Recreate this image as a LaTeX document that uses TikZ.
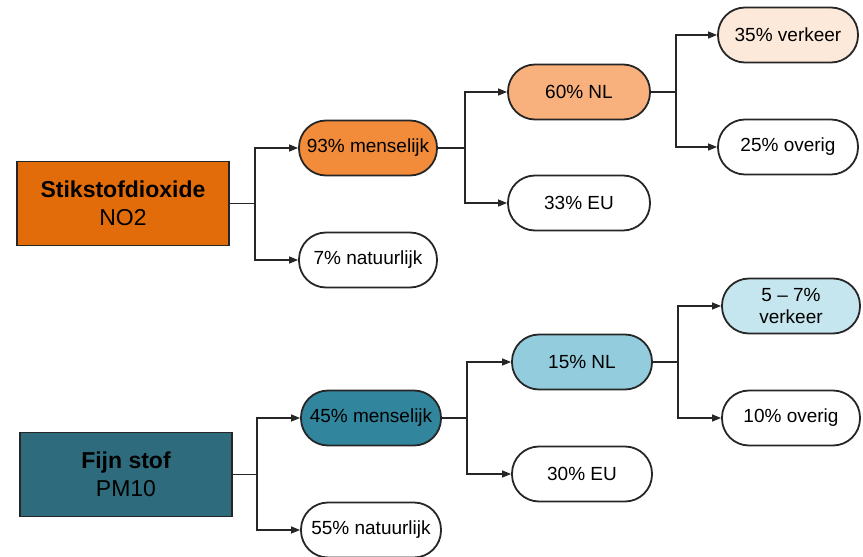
\documentclass[tikz,border=0pt]{standalone}
\usepackage{fontspec}
\setmainfont{Liberation Sans}
\usetikzlibrary{arrows.meta}
\definecolor{noBox}{HTML}{E36C0A}
\definecolor{noA}{HTML}{F28B3A}
\definecolor{noB}{HTML}{F8B17C}
\definecolor{noC}{HTML}{FDE9D9}
\definecolor{pmBox}{HTML}{2E6B7C}
\definecolor{pmA}{HTML}{31859C}
\definecolor{pmB}{HTML}{93CDDD}
\definecolor{pmC}{HTML}{C6E6EF}
\tikzset{
  mainbox/.style={draw=black!85, line width=1.6pt, minimum width=212pt, minimum height=84pt,
    align=center, font=\fontsize{23}{28}\selectfont, inner sep=0pt},
  pill/.style={draw=black!85, line width=1.8pt, rounded corners=27pt, minimum height=55pt,
    align=center, font=\fontsize{19}{22}\selectfont, inner sep=0pt, fill=white},
  conn/.style={line width=1.2pt, draw=black!85},
  arr/.style={conn, -{Triangle[length=9pt,width=7pt]}}
}
\begin{document}
\begin{tikzpicture}[x=1pt,y=-1pt]
\useasboundingbox (0,0) rectangle (863,557);
% ---- NO2 tree
\node[mainbox, fill=noBox] (s) at (123,203.5) {\textbf{Stikstofdioxide}\\NO2};
\node[pill, fill=noA, minimum width=138pt] (m1) at (368,148) {93\% menselijk};
\node[pill, minimum width=138pt] (n1) at (368,260) {7\% natuurlijk};
\node[pill, fill=noB, minimum width=142pt] (nl1) at (579,92) {60\% NL};
\node[pill, minimum width=142pt] (eu1) at (579,203) {33\% EU};
\node[pill, fill=noC, minimum width=140pt] (v1) at (788,35) {35\% verkeer};
\node[pill, minimum width=140pt] (o1) at (788,147) {25\% overig};
\coordinate (b1) at (255,203.5);
\coordinate (b2) at (465,148);
\coordinate (b3) at (676,92);
\draw[conn] (s.east) -- (b1);
\draw[arr] (b1) |- (m1.west);
\draw[arr] (b1) |- (n1.west);
\draw[conn] (m1.east) -- (b2);
\draw[arr] (b2) |- (nl1.west);
\draw[arr] (b2) |- (eu1.west);
\draw[conn] (nl1.east) -- (b3);
\draw[arr] (b3) |- (v1.west);
\draw[arr] (b3) |- (o1.west);
% ---- PM10 tree
\node[mainbox, fill=pmBox] (f) at (126,474.5) {\textbf{Fijn stof}\\PM10};
\node[pill, fill=pmA, minimum width=140pt] (m2) at (371,418) {45\% menselijk};
\node[pill, minimum width=140pt] (n2) at (371,530) {55\% natuurlijk};
\node[pill, fill=pmB, minimum width=140pt] (nl2) at (582,362) {15\% NL};
\node[pill, minimum width=140pt] (eu2) at (582,474) {30\% EU};
\node[pill, fill=pmC, minimum width=138pt] (v2) at (791,306) {5 – 7\%\\verkeer};
\node[pill, minimum width=138pt] (o2) at (791,418) {10\% overig};
\coordinate (c1) at (257,474.5);
\coordinate (c2) at (467,418);
\coordinate (c3) at (678,362);
\draw[conn] (f.east) -- (c1);
\draw[arr] (c1) |- (m2.west);
\draw[arr] (c1) |- (n2.west);
\draw[conn] (m2.east) -- (c2);
\draw[arr] (c2) |- (nl2.west);
\draw[arr] (c2) |- (eu2.west);
\draw[conn] (nl2.east) -- (c3);
\draw[arr] (c3) |- (v2.west);
\draw[arr] (c3) |- (o2.west);
\end{tikzpicture}
\end{document}
